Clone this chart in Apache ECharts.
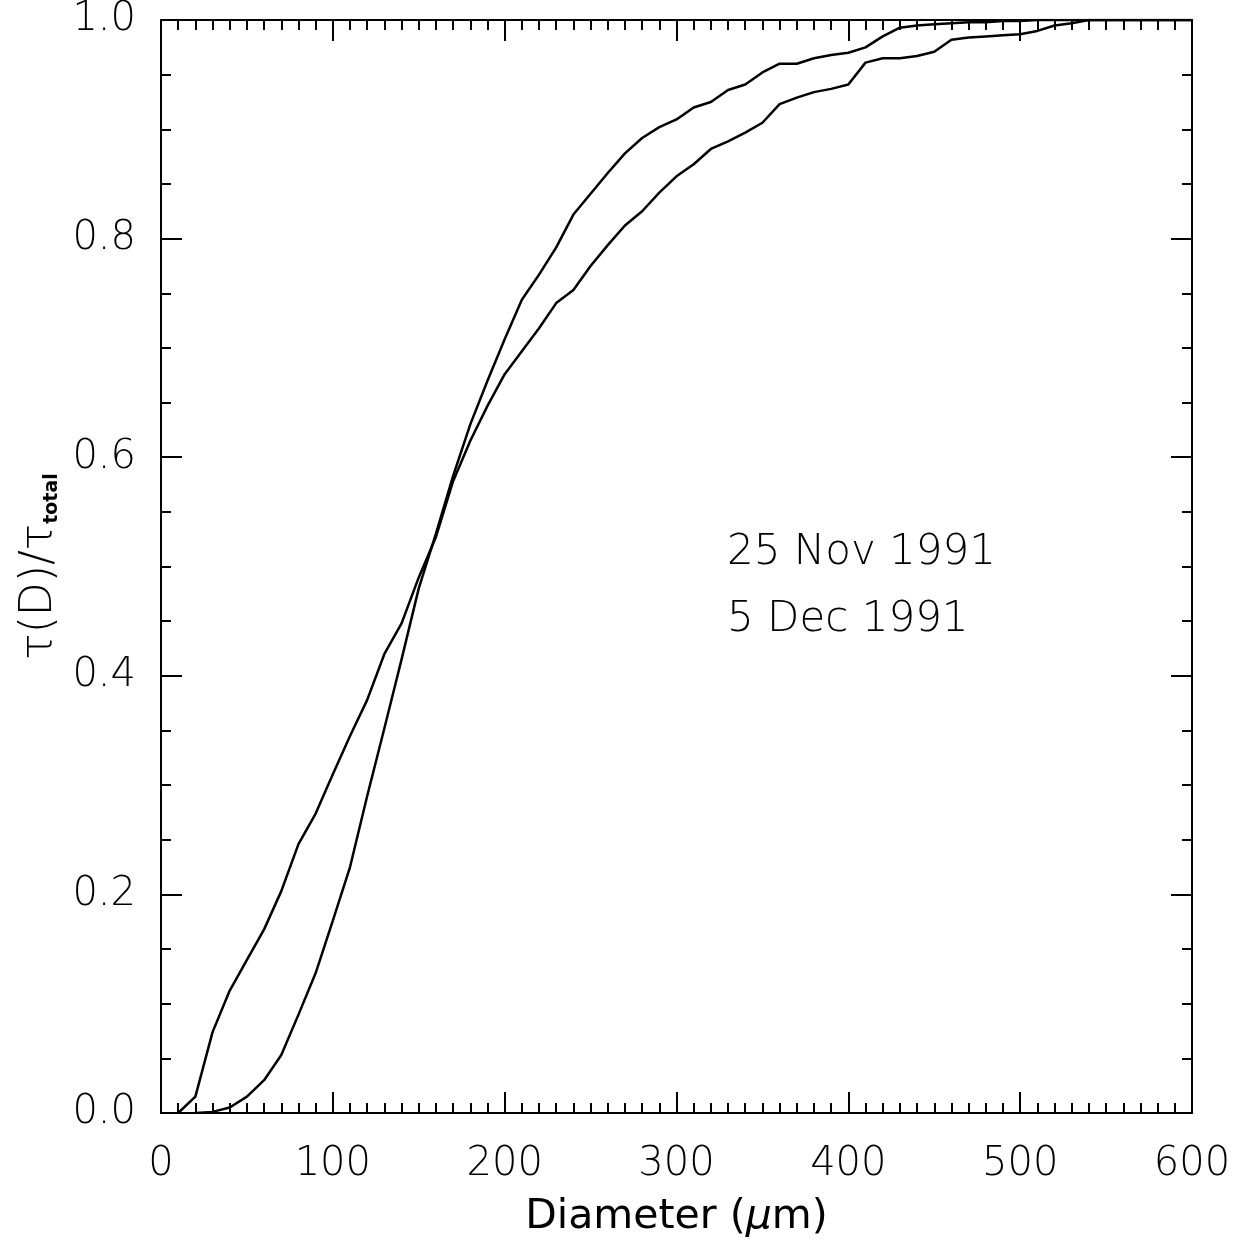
<!DOCTYPE html>
<html>
<head>
<meta charset="utf-8">
<script src="https://cdn.jsdelivr.net/npm/echarts@6/dist/echarts.min.js"></script>
<style>
html,body{margin:0;padding:0;background:#fff;}
#chart{width:1242px;height:1243px;}
</style>
</head>
<body>
<div id="chart"></div>
<script>
// Diameter (µm) sample positions
var diameters = [10,20,30,40,50,60,70,80,90,100,110,120,130,140,150,160,170,180,190,200,
  210,220,230,240,250,260,270,280,290,300,310,320,330,340,350,360,370,380,390,400,
  410,420,430,440,450,460,470,480,490,500,510,520,530,540,550,560,570,580,590,600];

// tau(D)/tau_total, 25 Nov 1991 (early-rising curve)
var nov25 = [0.000,0.015,0.074,0.112,0.140,0.168,0.203,0.246,0.274,0.310,
  0.345,0.378,0.420,0.448,0.490,0.527,0.578,0.615,0.647,0.676,
  0.697,0.718,0.741,0.753,0.775,0.794,0.812,0.825,0.842,0.857,
  0.868,0.882,0.889,0.897,0.906,0.923,0.929,0.934,0.937,0.941,
  0.961,0.965,0.965,0.967,0.971,0.982,0.984,0.985,0.986,0.987,
  0.990,0.995,0.997,1.000,1.000,1.000,1.000,1.000,1.000,1.000];

// tau(D)/tau_total, 5 Dec 1991 (late-starting, steeper curve)
var dec5 = [null,0.000,0.001,0.005,0.015,0.030,0.053,0.090,0.128,0.176,
  0.225,0.290,0.352,0.415,0.480,0.530,0.583,0.630,0.670,0.708,
  0.744,0.767,0.792,0.822,0.841,0.860,0.878,0.892,0.902,0.909,
  0.920,0.925,0.936,0.941,0.952,0.960,0.960,0.965,0.968,0.970,
  0.975,0.985,0.993,0.995,0.996,0.997,0.998,0.998,0.999,0.999,
  1.000,1.000,1.000,1.000,1.000,1.000,1.000,1.000,1.000,1.000];

var legendLabels = ['25 Nov 1991', '5 Dec 1991'];

function pairs(xs, ys) {
  var out = [];
  for (var i = 0; i < xs.length; i++) {
    if (ys[i] !== null) out.push([xs[i], ys[i]]);
  }
  return out;
}

var FONT = '"DejaVu Sans", Lato, sans-serif';
var axisLineStyle = {color: '#000', width: 2};

function xAx(pos, showLabel) {
  return {
    type: 'value', position: pos, min: 0, max: 600, interval: 100,
    axisLine: {show: true, onZero: false, lineStyle: axisLineStyle},
    axisTick: {show: true, inside: true, length: 21, lineStyle: {color: '#000', width: 2}},
    minorTick: {show: true, splitNumber: 10, length: 10, lineStyle: {color: '#000', width: 2}},
    axisLabel: {show: showLabel, fontSize: 40, fontWeight: 200, color: '#000', margin: 32, fontFamily: FONT},
    splitLine: {show: false}
  };
}
function yAx(pos, showLabel) {
  return {
    type: 'value', position: pos, min: 0, max: 1, interval: 0.2,
    axisLine: {show: true, onZero: false, lineStyle: axisLineStyle},
    axisTick: {show: true, inside: true, length: 21, lineStyle: {color: '#000', width: 2}},
    minorTick: {show: true, splitNumber: 4, length: 10, lineStyle: {color: '#000', width: 2}},
    axisLabel: {show: showLabel, fontSize: 40, fontWeight: 200, color: '#000', margin: 25, fontFamily: FONT,
      formatter: function (v) { return v.toFixed(1); }},
    splitLine: {show: false}
  };
}

var xBottom = xAx('bottom', true);
xBottom.name = '{r|Diameter (}{i|μ}{r|m)}';
xBottom.nameLocation = 'middle';
xBottom.nameGap = 84;
xBottom.nameTextStyle = {
  rich: {
    r: {fontSize: 41, color: '#000', fontFamily: FONT, fontWeight: 400},
    i: {fontSize: 41, color: '#000', fontFamily: FONT, fontWeight: 400, fontStyle: 'italic'}
  }
};

var yLeft = yAx('left', true);
yLeft.name = '{a|τ(D)/τ}{b|total}';
yLeft.nameLocation = 'middle';
yLeft.nameGap = 98;
yLeft.nameTextStyle = {
  rich: {
    a: {fontSize: 44, color: '#000', fontFamily: FONT, fontWeight: 200, verticalAlign: 'bottom', lineHeight: 52},
    b: {fontSize: 19, color: '#000', fontFamily: FONT, fontWeight: 700, verticalAlign: 'bottom', lineHeight: 44}
  }
};

var chart = echarts.init(document.getElementById('chart'), null, {renderer: 'canvas'});
chart.setOption({
  backgroundColor: '#fff',
  animation: false,
  grid: {left: 161, right: 50, top: 11, bottom: 128, containLabel: false},
  xAxis: [xBottom, xAx('top', false)],
  yAxis: [yLeft, yAx('right', false)],
  series: [
    {name: legendLabels[0], type: 'line', xAxisIndex: 0, yAxisIndex: 0, data: pairs(diameters, nov25),
      showSymbol: false, lineStyle: {color: '#000', width: 2.5}, clip: true},
    {name: legendLabels[1], type: 'line', xAxisIndex: 0, yAxisIndex: 0, data: pairs(diameters, dec5),
      showSymbol: false, lineStyle: {color: '#000', width: 2.5}, clip: true}
  ],
  graphic: [
    {type: 'text', left: 727, top: 532, style: {text: legendLabels[0], font: '200 42px ' + FONT, fill: '#000'}},
    {type: 'text', left: 727, top: 599, style: {text: legendLabels[1], font: '200 42px ' + FONT, fill: '#000'}}
  ]
});
</script>
</body>
</html>
